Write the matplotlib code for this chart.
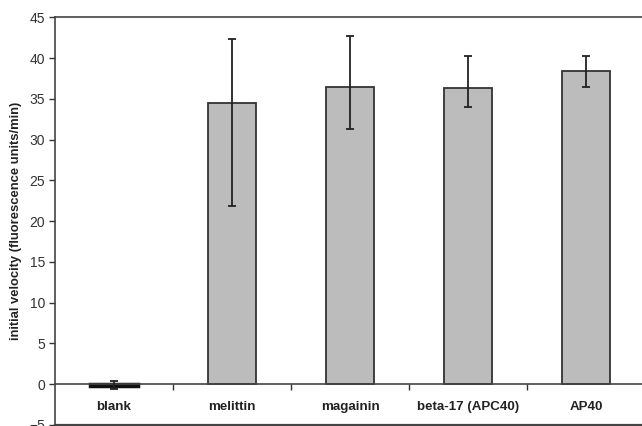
import matplotlib
matplotlib.use("Agg")
import matplotlib.pyplot as plt
import numpy as np

plt.rcParams['font.family'] = ['Liberation Sans', 'DejaVu Sans']

categories = ["blank", "melittin", "magainin", "beta-17 (APC40)", "AP40"]
values = [-0.25, 34.5, 36.4, 36.3, 38.4]
err_low = [0.35, 12.6, 5.1, 2.3, 1.9]
err_high = [0.65, 7.8, 6.3, 3.9, 1.8]
yticks = list(range(-5, 50, 5))

fig = plt.figure(figsize=(6.42, 4.26), dpi=100)
ax = fig.add_axes([55/642, 1-425/426, 590/642, (425-17.3)/426])

x = np.arange(len(categories))
edge = ['#111111'] + ['#333333'] * 4
lws = [2.5] + [1.3] * 4
ax.bar(x, values, width=0.41, color='#bcbcbc', edgecolor=edge, linewidth=lws, zorder=2)
ax.errorbar(x, values, yerr=[err_low, err_high], fmt='none', ecolor='#222222',
            elinewidth=1.3, capsize=3, capthick=1.3, zorder=3)

ax.set_xlim(-0.5, len(categories) - 0.5)
ax.set_ylim(-5, 45)
ax.set_yticks(yticks)
ax.tick_params(axis='y', direction='out', length=4, width=1, color='#333333',
               labelsize=10, labelcolor='#333333', pad=3)

ax.spines['right'].set_visible(False)
ax.spines['bottom'].set_position(('data', 0))
for s in ['left', 'top', 'bottom']:
    ax.spines[s].set_color('#444444')
    ax.spines[s].set_linewidth(1.2)
ax.axhline(-5, color='#444444', linewidth=1.6, clip_on=False, zorder=1)

ax.set_xticks(np.arange(len(categories)) + 0.5)
ax.set_xticklabels([])
ax.tick_params(axis='x', which='major', direction='out', length=4, width=1, color='#333333')
ax.set_xticks(x, minor=True)
ax.set_xticklabels(categories, minor=True, fontweight='bold', fontsize=9.6, color='#222222')
ax.tick_params(axis='x', which='minor', length=0, pad=12)

ax.set_ylabel("initial velocity (fluorescence units/min)", fontweight='bold',
              fontsize=9.4, color='#222222', labelpad=5)

fig.savefig("out.png", dpi=100)
